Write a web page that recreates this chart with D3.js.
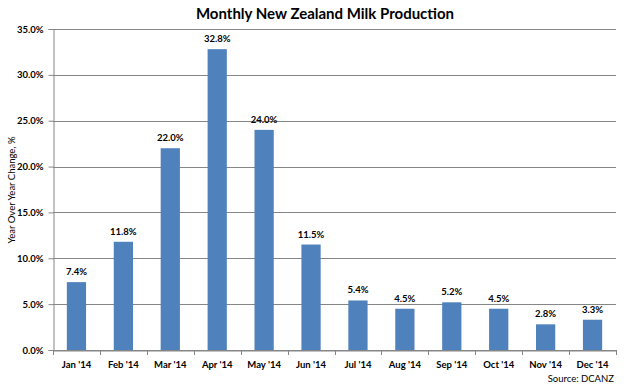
<!DOCTYPE html>
<html>
<head>
<meta charset="utf-8">
<script src="https://cdn.jsdelivr.net/npm/d3@7"></script>
<style>
body { margin: 0; background: #fff; }
text { font-family: Lato, "Open Sans", sans-serif; }
</style>
</head>
<body>
<div id="chart"></div>
<script>
var months = ["Jan '14", "Feb '14", "Mar '14", "Apr '14", "May '14", "Jun '14",
    "Jul '14", "Aug '14", "Sep '14", "Oct '14", "Nov '14", "Dec '14"];
var yoyChange = [7.4, 11.8, 22.0, 32.8, 24.0, 11.5, 5.4, 4.5, 5.2, 4.5, 2.8, 3.3];
var yTicks = [0, 5, 10, 15, 20, 25, 30, 35];

var width = 628, height = 388;
var margin = {top: 29, right: 12, bottom: 38, left: 53};
var axisGrey = "#868686";

var svg = d3.select("#chart")
    .append("svg")
    .attr("width", width)
    .attr("height", height)

var x = d3.scaleBand()
    .domain(months)
    .range([margin.left, width - margin.right])
    .paddingInner(0.59)
    .paddingOuter(0.295)

var y = d3.scaleLinear()
    .domain([0, 35])
    .range([height - margin.bottom, margin.top])

// gridlines
svg.append("g")
    .selectAll("line")
    .data(yTicks)
    .enter().append("line")
    .attr("x1", margin.left)
    .attr("x2", width - margin.right)
    .attr("y1", function(d){ return Math.round(y(d)) + 0.5; })
    .attr("y2", function(d){ return Math.round(y(d)) + 0.5; })
    .style("stroke", axisGrey)

// bars
svg.append("g")
    .selectAll("rect")
    .data(yoyChange)
    .enter().append("rect")
    .attr("x", function(d, i){ return x(months[i]); })
    .attr("y", function(d){ return y(d); })
    .attr("width", x.bandwidth())
    .attr("height", function(d){ return y(0) - y(d); })
    .attr("fill", "#4F81BD")

// data labels
svg.append("g")
    .selectAll("text")
    .data(yoyChange)
    .enter().append("text")
    .attr("x", function(d, i){ return x(months[i]) + x.bandwidth() / 2; })
    .attr("y", function(d){ return y(d) - 7; })
    .attr("text-anchor", "middle")
    .attr("font-size", 9.5)
    .attr("font-weight", "bold")
    .style("fill", "#000")
    .text(function(d){ return d.toFixed(1) + "%"; })

// y axis
var yAxis = svg.append("g")
    .attr("transform", "translate(" + (margin.left + 0.5) + ",0)")
    .call(d3.axisLeft(y).tickValues(yTicks).tickSize(5).tickPadding(5)
        .tickFormat(function(d){ return d.toFixed(1) + "%"; }))

yAxis.select(".domain").style("stroke", axisGrey)
yAxis.selectAll(".tick line").style("stroke", axisGrey)
yAxis.selectAll(".tick text")
    .attr("font-size", 9.5)
    .attr("font-weight", "bold")
    .style("font-family", "Lato, sans-serif")
    .style("fill", "#000")

// x axis
var xAxis = svg.append("g")
    .attr("transform", "translate(0," + (y(0) + 0.5) + ")")
    .call(d3.axisBottom(x).tickSize(0).tickPadding(11))

xAxis.select(".domain").style("stroke", axisGrey)
xAxis.selectAll(".tick text")
    .attr("font-size", 9.5)
    .attr("font-weight", "bold")
    .style("font-family", "Lato, sans-serif")
    .style("fill", "#000")

// category boundary ticks
var step = x.step();
svg.append("g")
    .selectAll("line")
    .data(d3.range(months.length + 1))
    .enter().append("line")
    .attr("x1", function(i){ return Math.round(margin.left + i * step) + 0.5; })
    .attr("x2", function(i){ return Math.round(margin.left + i * step) + 0.5; })
    .attr("y1", y(0))
    .attr("y2", y(0) + 5)
    .style("stroke", axisGrey)

// title
svg.append("text")
    .attr("x", 325)
    .attr("y", 19)
    .attr("text-anchor", "middle")
    .attr("font-size", 15)
    .attr("font-weight", "bold")
    .text("Monthly New Zealand Milk Production")

// y axis title
svg.append("text")
    .attr("transform", "translate(15," + 190 + ") rotate(-90)")
    .attr("text-anchor", "middle")
    .attr("font-size", 9.5)
    .text("Year Over Year Change, %")

// source
svg.append("text")
    .attr("x", 614)
    .attr("y", 382)
    .attr("text-anchor", "end")
    .attr("font-size", 9.5)
    .text("Source: DCANZ")
</script>
</body>
</html>
